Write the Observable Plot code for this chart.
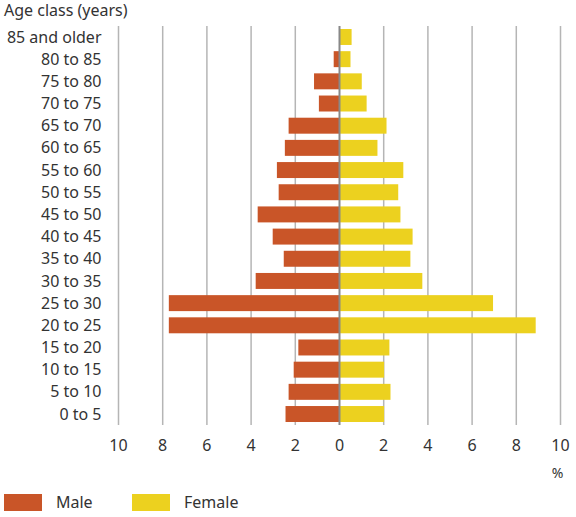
<!DOCTYPE html>
<html>
<head>
<meta charset="utf-8">
<script src="https://cdn.jsdelivr.net/npm/d3@7"></script>
<script src="https://cdn.jsdelivr.net/npm/@observablehq/plot@0.6"></script>
<style>
  html, body { margin: 0; padding: 0; background: #fff; }
  body { width: 576px; height: 517px; position: relative; font-family: "Noto Sans", sans-serif; color: #333; }
  #title { position: absolute; left: 4px; top: -1px; font-size: 16px; line-height: 22px; }
  #chart { position: absolute; left: 0; top: 22px; }
  #legend { position: absolute; left: 0; top: 482px; width: 576px; height: 35px; font-size: 16px; }
  .sw { position: absolute; top: 12px; width: 38px; height: 17px; }
  .lb { position: absolute; top: 10px; line-height: 21px; }
</style>
</head>
<body>
<div id="title">Age class (years)</div>
<div id="chart"></div>
<div id="legend">
  <div class="sw" style="left:4px;background:#c95528"></div><div class="lb" style="left:56px">Male</div>
  <div class="sw" style="left:132px;background:#ecd11f"></div><div class="lb" style="left:184px">Female</div>
</div>
<script>
const ages = ["85 and older","80 to 85","75 to 80","70 to 75","65 to 70","60 to 65","55 to 60","50 to 55","45 to 50","40 to 45","35 to 40","30 to 35","25 to 30","20 to 25","15 to 20","10 to 15","5 to 10","0 to 5"];
const male = [0, 0.24, 1.13, 0.91, 2.28, 2.45, 2.81, 2.73, 3.68, 3.0, 2.5, 3.77, 7.7, 7.7, 1.84, 2.05, 2.28, 2.42];
const female = [0.57, 0.52, 1.03, 1.25, 2.15, 1.74, 2.91, 2.68, 2.78, 3.33, 3.23, 3.77, 6.97, 8.9, 2.28, 2.04, 2.33, 2.04];
const xTicks = [-10, -8, -6, -4, -2, 0, 2, 4, 6, 8, 10];
const maleColor = "#c95528";
const femaleColor = "#ecd11f";

const rows = ages.map((a, i) => ({age: a, male: male[i], female: female[i]}));

const chart = Plot.plot({
  width: 576,
  height: 460,
  marginLeft: 118,
  marginRight: 16,
  marginTop: 4,
  marginBottom: 57,
  style: {fontFamily: "Noto Sans, sans-serif", fontSize: "16px", color: "#333", background: "#fff"},
  x: {domain: [-10, 10], ticks: xTicks, tickFormat: d => Math.abs(d), label: null},
  y: {domain: ages, paddingInner: 0.28, paddingOuter: 0.135, round: false, label: null},
  marks: [
    Plot.ruleX(xTicks.filter(d => d !== 0), {stroke: "#b5b5b5", strokeWidth: 1.5}),
    Plot.barX(rows, {y: "age", x1: 0, x2: d => -d.male, fill: maleColor}),
    Plot.barX(rows, {y: "age", x1: 0, x2: d => d.female, fill: femaleColor}),
    Plot.ruleX([0], {stroke: "#888", strokeWidth: 2}),
    Plot.axisX({ticks: xTicks, tickFormat: d => Math.abs(d), tickSize: 0, tickPadding: 14, label: null, fontSize: 16}),
    Plot.axisY({tickSize: 0, tickPadding: 17, label: null, fontSize: 16}),
    Plot.text(["%"], {x: 10, frameAnchor: "bottom", dy: 52, dx: -3, text: d => d, fontSize: 14, fill: "#333"})
  ]
});
document.getElementById("chart").appendChild(chart);
</script>
</body>
</html>
